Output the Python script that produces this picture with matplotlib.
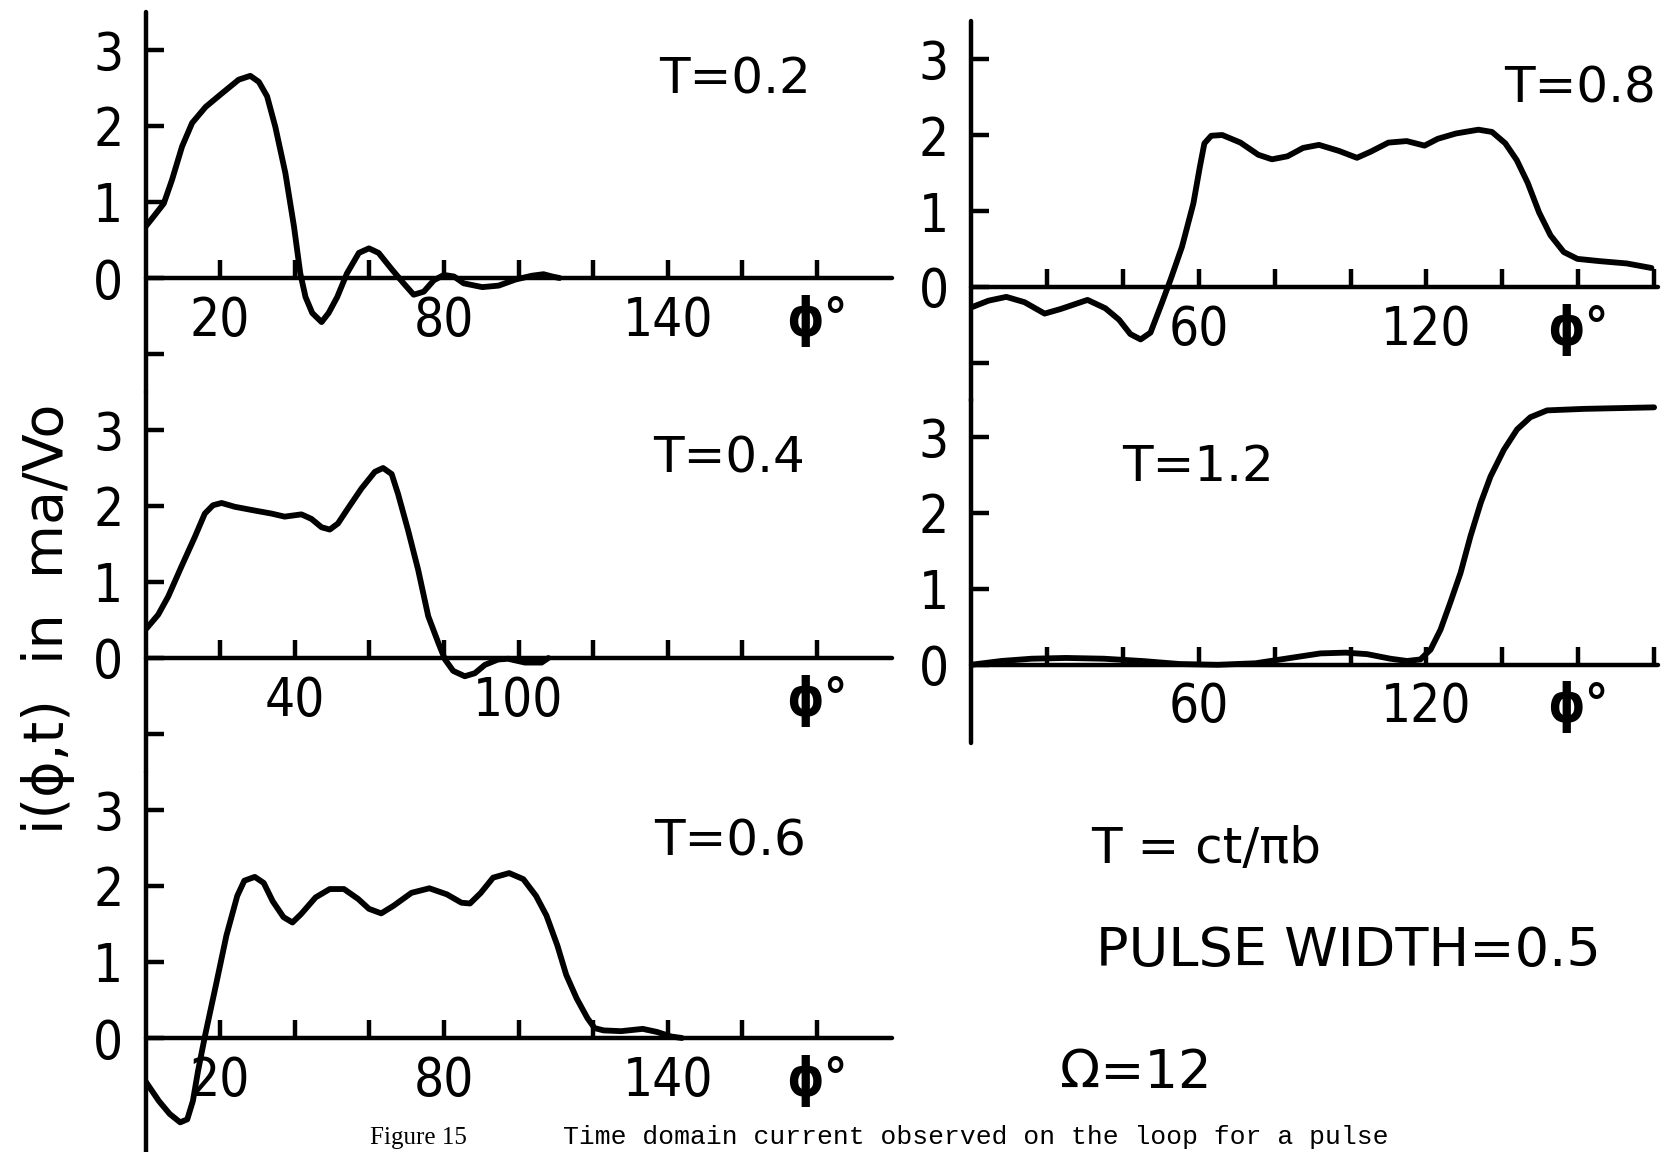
import matplotlib
matplotlib.use('Agg')
import matplotlib.pyplot as plt

# --- values (phi in degrees, current in ma/Vo) ---
phi_02 = [0, 2.2, 4.9, 7.1, 9.8, 12.5, 16.1, 20.5, 25, 28.1, 30.4, 32.6, 34.8, 37.5, 39.8,
          41.5, 42.9, 44.7, 47.2, 49.1, 51.4, 54, 57.2, 59.9, 62.5, 66.1, 69.2, 71.9, 74.6,
          77.3, 80, 82.7, 85.3, 90.3, 94.7, 99.2, 103.6, 106.7, 109, 111]
cur_02 = [0.675, 0.81, 0.98, 1.29, 1.73, 2.04, 2.25, 2.43, 2.61, 2.66, 2.58, 2.39, 1.99, 1.38, 0.68,
          0.06, -0.25, -0.46, -0.58, -0.46, -0.25, 0.06, 0.33, 0.39, 0.33, 0.11, -0.07, -0.22, -0.18,
          -0.03, 0.04, 0.02, -0.07, -0.12, -0.1, -0.02, 0.03, 0.05, 0.02, 0.0]

phi_04 = [0.3, 3.4, 6.1, 9.6, 13.2, 15.9, 18.1, 20.4, 23.9, 29.3, 33.8, 37.3, 41.8, 44.5, 47.2,
          49.4, 51.6, 54.3, 57.9, 61.5, 63.7, 66, 67.7, 70.4, 73.1, 75.8, 78.5, 80.3, 82.5,
          85.6, 88.3, 91, 94.5, 97.2, 101.7, 106.2, 108]
cur_04 = [0.39, 0.57, 0.81, 1.2, 1.59, 1.9, 2.01, 2.04, 1.99, 1.94, 1.9, 1.86, 1.89, 1.83, 1.72,
          1.69, 1.77, 1.97, 2.23, 2.45, 2.5, 2.42, 2.16, 1.68, 1.16, 0.55, 0.2, -0.02, -0.17,
          -0.24, -0.2, -0.09, -0.02, -0.01, -0.06, -0.06, 0.0]

phi_06 = [0, 3.6, 6.5, 9.3, 11.2, 12.7, 14.1, 16, 18.9, 21.7, 24.6, 26.5, 29.3, 31.7, 34.1,
          37, 39.4, 41.7, 45.6, 49.4, 53.2, 57, 59.9, 63.2, 66.5, 71.3, 76.1, 80.8, 84.7, 87,
          89.9, 93.2, 97.5, 101.3, 104.7, 107.5, 110.4, 112.8, 115.6, 118.5, 120.4, 122.8,
          127.5, 133.3, 137.1, 140.9, 143.8]
cur_06 = [-0.57, -0.83, -1.0, -1.11, -1.07, -0.83, -0.43, 0.04, 0.7, 1.35, 1.87, 2.07, 2.12, 2.04, 1.8,
          1.59, 1.52, 1.63, 1.85, 1.96, 1.96, 1.83, 1.7, 1.64, 1.74, 1.91, 1.97, 1.89, 1.78, 1.77,
          1.91, 2.11, 2.17, 2.09, 1.87, 1.61, 1.22, 0.83, 0.52, 0.26, 0.13, 0.1,
          0.09, 0.12, 0.08, 0.02, 0.0]

phi_08 = [0, 4.6, 9.3, 14.1, 19.4, 23.6, 30.7, 35.4, 39, 42, 44.7, 47.3, 50.3, 52.6, 55.6,
          58.6, 60.3, 61.5, 63.3, 66.2, 71, 75.7, 79.3, 83.4, 87.5, 91.7, 97, 101.7, 105.3,
          110, 114.8, 119.5, 123, 127.8, 133.7, 137.3, 140.8, 143.8, 146.7, 149.7, 152.7,
          156.2, 159.8, 165.7, 172.8, 179.3]
cur_08 = [-0.27, -0.18, -0.13, -0.2, -0.35, -0.29, -0.17, -0.28, -0.43, -0.62, -0.69, -0.6, -0.21, 0.1, 0.53,
          1.1, 1.58, 1.89, 1.99, 2.0, 1.9, 1.74, 1.68, 1.72, 1.83, 1.87, 1.79, 1.7, 1.78,
          1.9, 1.92, 1.86, 1.95, 2.02, 2.07, 2.04, 1.89, 1.67, 1.37, 0.98, 0.68,
          0.46, 0.37, 0.34, 0.31, 0.25]

phi_12 = [0, 8, 16, 25, 35, 45, 55, 65, 75, 86.8, 92.1, 98.7, 104.4, 110.5, 114.9, 118.4,
          121.1, 123.7, 126.3, 129, 131.6, 134.3, 136.9, 140.4, 143.9, 147.4, 151.8, 161.5, 180]
cur_12 = [0.0, 0.05, 0.08, 0.09, 0.08, 0.05, 0.01, 0.0, 0.02, 0.11, 0.15, 0.16, 0.14, 0.08, 0.05, 0.07,
          0.2, 0.46, 0.82, 1.21, 1.69, 2.13, 2.48, 2.83, 3.1, 3.26, 3.35, 3.37, 3.39]

xticks = [20, 40, 60, 80, 100, 120, 140, 160, 180]
xlab_a = ['20', '', '', '80', '', '', '140', '', 'ϕ°']
xlab_b = ['', '40', '', '', '100', '', '', '', 'ϕ°']
xlab_r = ['', '', '60', '', '', '120', '', 'ϕ°', '']

W, H = 1675, 1152


def setup(ax, xmax, ylim, yticks, xlabels):
    for s in ['top', 'right']:
        ax.spines[s].set_visible(False)
    ax.spines['bottom'].set_position(('data', 0))
    for s in ['left', 'bottom']:
        ax.spines[s].set_linewidth(3.2)
        ax.spines[s].set_capstyle('round')
    ax.set_xlim(0, xmax)
    ax.set_ylim(*ylim)
    ax.set_yticks(yticks)
    ax.set_yticklabels(['' if v < 0 else str(v) for v in yticks])
    ax.set_xticks(xticks)
    ax.set_xticklabels(xlabels)
    ax.tick_params(direction='in', length=13, width=3.2, labelsize=38)
    ax.tick_params(axis='y', pad=16)
    ax.tick_params(axis='x', pad=12)
    for lab in ax.get_xticklabels() + ax.get_yticklabels():
        lab.set_fontstretch('condensed')
        if lab.get_text() == 'ϕ°':
            lab.set_fontweight('bold')
    ax.patch.set_visible(False)


def box(x0, top, x1, bottom):
    return [x0 / W, 1 - bottom / H, (x1 - x0) / W, (bottom - top) / H]


fig = plt.figure(figsize=(W / 100, H / 100), dpi=100)

lw = 4.2
lx0, lscale = 145.5, 3.73
rx0, rscale = 971, 3.795
ax1 = fig.add_axes(box(lx0, 12, lx0 + 200 * lscale, 392))
ax2 = fig.add_axes(box(lx0, 392, lx0 + 200 * lscale, 772))
ax3 = fig.add_axes(box(lx0, 772, lx0 + 200 * lscale, 1152))
ax4 = fig.add_axes(box(rx0, 21, rx0 + 181 * rscale, 401))
ax5 = fig.add_axes(box(rx0, 399, rx0 + 181 * rscale, 743))

setup(ax1, 200, (-1.5, 3.5), [-1, 0, 1, 2, 3], xlab_a)
setup(ax2, 200, (-1.5, 3.5), [-1, 0, 1, 2, 3], xlab_b)
setup(ax3, 200, (-1.5, 3.5), [0, 1, 2, 3], xlab_a)
setup(ax4, 181, (-1.5, 3.5), [-1, 0, 1, 2, 3], xlab_r)
setup(ax5, 181, (-1.03, 3.5), [0, 1, 2, 3], xlab_r)

for ax, x, y in [(ax1, phi_02, cur_02), (ax2, phi_04, cur_04), (ax3, phi_06, cur_06),
                 (ax4, phi_08, cur_08), (ax5, phi_12, cur_12)]:
    ax.plot(x, y, color='black', lw=lw, solid_joinstyle='round', solid_capstyle='round')

# panel labels
fig.text(0.439, 0.9314, 'T=0.2', fontsize=36, ha='center', va='center')
fig.text(0.943, 0.9236, 'T=0.8', fontsize=36, ha='center', va='center')
fig.text(0.435, 0.6016, 'T=0.4', fontsize=36, ha='center', va='center')
fig.text(0.715, 0.5946, 'T=1.2', fontsize=36, ha='center', va='center')
fig.text(0.436, 0.2691, 'T=0.6', fontsize=36, ha='center', va='center')
fig.text(0.720, 0.263, 'T = ct/πb', fontsize=36, ha='center', va='center')
fig.text(0.805, 0.1745, 'PULSE WIDTH=0.5', fontsize=39, ha='center', va='center')
fig.text(0.678, 0.0686, 'Ω=12', fontsize=38, ha='center', va='center')

# y axis label
fig.text(0.0287, 0.4627, 'i(ϕ,t)  in  ma/Vo', fontsize=40, rotation=90, ha='center', va='center')

# caption at the bottom edge
fig.text(370 / W, 0.007, 'Figure 15', fontsize=18, family='Liberation Serif',
         ha='left', va='baseline')
fig.text(563 / W, 0.007, 'Time domain current observed on the loop for a pulse',
         fontsize=19, family='Liberation Mono', ha='left', va='baseline')

fig.savefig('out.png', dpi=100)
